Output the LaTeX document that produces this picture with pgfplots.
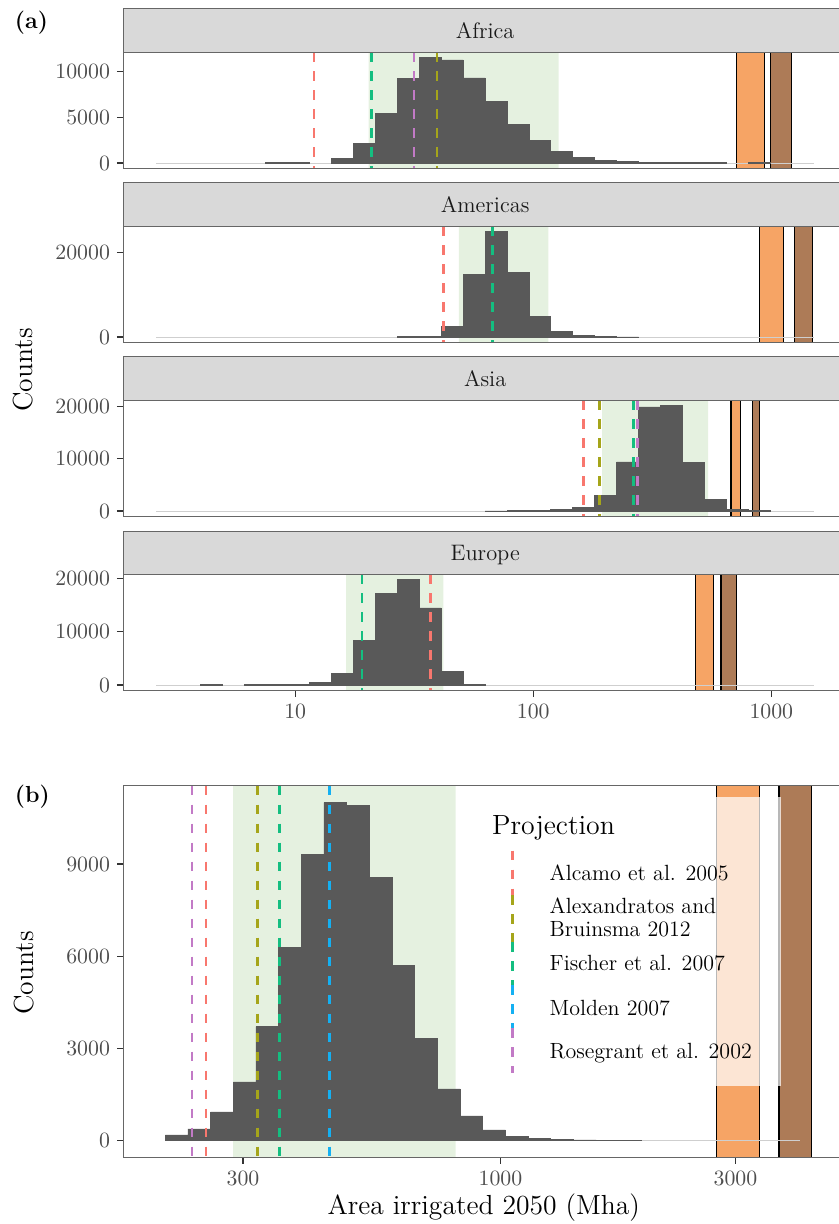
\documentclass[border=0pt]{standalone}
\usepackage{fontspec}
\usepackage{pgfplots}
\usepackage{pgfplotstable}
\pgfplotsset{compat=1.18}
\definecolor{cred}{HTML}{F8776E}
\definecolor{colive}{HTML}{A5A51A}
\definecolor{cgreen}{HTML}{14BE80}
\definecolor{cblue}{HTML}{14B0F2}
\definecolor{cpurple}{HTML}{C27AC6}
\definecolor{shade}{HTML}{E5F1E0}
\definecolor{sandy}{HTML}{F6A465}
\definecolor{tanb}{HTML}{AD7B57}
\definecolor{histfill}{HTML}{595959}
\definecolor{baseln}{HTML}{CFCFCF}
\definecolor{framec}{HTML}{666666}
\definecolor{stripc}{HTML}{D9D9D9}
\definecolor{ticklab}{HTML}{4D4D4D}
\definecolor{tickc}{HTML}{333333}

% regional histograms: x = log10(area, Mha) of bin left edge, counts per bin
\pgfplotstableread{
edge   africa americas asia  europe
0.4160 0      0        0     0
0.5081 0      0        0     0
0.6002 0      0        0     40
0.6923 0      0        0     0
0.7844 0      0        0     40
0.8765 40     0        0     60
0.9686 60     0        0     80
1.0607 0      0        0     480
1.1528 473    0        0     2200
1.2449 2109   0        0     8287
1.3370 5382   0        0     17134
1.4291 9236   60       0     19751
1.5212 11527  200      0     14455
1.6133 11273  2530     0     2555
1.7054 9309   14783    0     60
1.7975 6691   25059    30    0
1.8896 4182   15257    40    0
1.9817 2436   4901     60    0
2.0738 1273   1265     255   0
2.1659 582    395      764   0
2.2580 255    80       2930  0
2.3501 145    40       9363  0
2.4422 60     0        19873 0
2.5343 45     0        20127 0
2.6264 40     0        9236  0
2.7185 35     0        2166  0
2.8106 0      0        382   0
2.9027 30     0        80    0
2.9948 0      0        0     0
3.0869 0      0        0     0
3.1790 0      0        0     0
}\regional

% global histogram
\pgfplotstableread{
edge   total
2.3194 185
2.3654 380
2.4115 933
2.4575 1908
2.5035 3705
2.5496 6273
2.5956 9318
2.6416 10997
2.6876 10910
2.7337 8570
2.7797 5710
2.8257 3315
2.8718 1680
2.9178 803
2.9638 348
3.0099 150
3.0559 75
3.1019 25
3.1479 20
3.1940 15
3.2400 10
3.2860 0
3.3321 0
3.3781 0
3.4241 0
3.4702 0
3.5162 0
3.5622 0
3.6082 0
}\totaltab

\tikzset{vline/.style={line width=1.3pt, dash pattern=on 4.75pt off 4.75pt}}
\pgfplotsset{
  base/.style={
    scale only axis, width=361.85pt, axis on top,
    axis line style={draw=framec, line width=0.5pt},
    tick pos=left, tick align=outside,
    major tick length=3.15pt,
    tick style={draw=tickc, line width=0.55pt},
    tick label style={font=\fontsize{10.9}{12}\selectfont, text=ticklab},
    /pgf/number format/assume math mode=true,
    /pgf/number format/1000 sep={},
    scaled y ticks=false,
    minor tick num=0,
  },
  facet/.style={base, height=58pt, xmin=0.278, xmax=3.318, xtick=\empty},
  hist/.style={ybar interval, fill=histfill, draw=histfill, line width=0.35pt},
}
\newcommand{\band}[3]{\addplot[#1] coordinates {(#2,\ylo) (#3,\ylo) (#3,\yhi) (#2,\yhi) (#2,\ylo)};}
\newcommand{\vl}[2]{\addplot[vline,#1] coordinates {(#2,\yhi) (#2,\ylo)};}
\newcommand{\baseline}[2]{\addplot[draw=baseln, line width=0.45pt] coordinates {(#1,0) (#2,0)};}

\begin{document}
\begin{tikzpicture}
\useasboundingbox (0,0) rectangle (419.5pt,-612pt);
\clip (0,0) rectangle (419.5pt,-612pt);

% ---------- Africa ----------
\def\ylo{-576}\def\yhi{12103}
\begin{axis}[facet, at={(61.65pt,-84.15pt)}, anchor=south west,
  ymin=-576, ymax=12103, ytick={0,5000,10000}]
\band{fill=shade, draw=none}{1.3082}{2.1069}
\band{fill=sandy, draw=black, line width=0.6pt}{2.855}{2.970}
\band{fill=tanb, draw=black, line width=0.6pt}{2.998}{3.085}
\baseline{0.4160}{3.1790}
\addplot[hist, restrict x to domain=0.876:1.061] table[x=edge, y=africa] {\regional};
\addplot[hist, restrict x to domain=1.152:2.811] table[x=edge, y=africa] {\regional};
\addplot[hist, restrict x to domain=2.902:2.995] table[x=edge, y=africa] {\regional};
\vl{cred}{1.0787}
\vl{colive}{1.5962}
\vl{cgreen}{1.3217}
\vl{cpurple}{1.4994}
\end{axis}

% ---------- Americas ----------
\def\ylo{-1253}\def\yhi{26312}
\begin{axis}[facet, at={(61.65pt,-171.15pt)}, anchor=south west,
  ymin=-1253, ymax=26312, ytick={0,20000}]
\band{fill=shade, draw=none}{1.688}{2.064}
\band{fill=sandy, draw=black, line width=0.6pt}{2.950}{3.052}
\band{fill=tanb, draw=black, line width=0.6pt}{3.097}{3.173}
\baseline{0.4160}{3.1790}
\addplot[hist, restrict x to domain=1.429:2.443] table[x=edge, y=americas] {\regional};
\vl{cred}{1.623}
\vl{cgreen}{1.830}
\end{axis}

% ---------- Asia ----------
\def\ylo{-1006}\def\yhi{21133}
\begin{axis}[facet, at={(61.65pt,-258.15pt)}, anchor=south west,
  ymin=-1006, ymax=21133, ytick={0,10000,20000}]
\band{fill=shade, draw=none}{2.289}{2.735}
\band{fill=sandy, draw=black, line width=0.6pt}{2.831}{2.870}
\band{fill=tanb, draw=black, line width=0.6pt}{2.921}{2.950}
\baseline{0.4160}{3.1790}
\addplot[hist, restrict x to domain=1.797:2.995] table[x=edge, y=asia] {\regional};
\vl{cred}{2.210}
\vl{colive}{2.278}
\vl{cgreen}{2.422}
\vl{cpurple}{2.438}
\end{axis}

% ---------- Europe ----------
\def\ylo{-988}\def\yhi{20739}
\begin{axis}[facet, at={(61.65pt,-345.15pt)}, anchor=south west,
  ymin=-988, ymax=20739, ytick={0,10000,20000},
  xtick={1,2,3}, xticklabels={10,100,1000}]
\band{fill=shade, draw=none}{1.214}{1.623}
\band{fill=sandy, draw=black, line width=0.6pt}{2.681}{2.757}
\band{fill=tanb, draw=black, line width=0.6pt}{2.789}{2.854}
\baseline{0.4160}{3.1790}
\addplot[hist, restrict x to domain=0.600:0.693] table[x=edge, y=europe] {\regional};
\addplot[hist, restrict x to domain=0.784:1.798] table[x=edge, y=europe] {\regional};
\vl{cred}{1.569}
\vl{cgreen}{1.281}
\end{axis}

% ---------- (b) global ----------
\def\ylo{-550}\def\yhi{11547}
\begin{axis}[base, at={(61.65pt,-578.75pt)}, anchor=south west,
  height=185.9pt, xmin=2.2341, xmax=3.7036, ymin=-550, ymax=11547,
  xtick={2.4771,3,3.4771}, xticklabels={300,1000,3000},
  ytick={0,3000,6000,9000}]
\band{fill=shade, draw=none}{2.4569}{2.9090}
\band{fill=sandy, draw=black, line width=0.6pt}{3.4382}{3.5263}
\band{fill=tanb, draw=black, line width=0.6pt}{3.5655}{3.6319}
\baseline{2.3194}{3.6082}
\addplot[hist, restrict x to domain=2.319:3.287] table[x=edge, y=total] {\totaltab};
\vl{cred}{2.4020}
\vl{colive}{2.5070}
\vl{cgreen}{2.5509}
\vl{cblue}{2.6524}
\vl{cpurple}{2.3736}
\end{axis}

\begin{scope}[x=0.5pt, y=-0.5pt]
% strips
\foreach \t/\name in {9/Africa, 183/Americas, 357/Asia, 531/Europe}{
  \filldraw[fill=stripc, draw=framec, line width=0.5pt] (123.3,\t) rectangle (860,\t+43.3);
  \node[anchor=base, inner sep=0, text=black!90, font=\fontsize{11.2}{13}\selectfont] at (485.2,\t+29.3) {\name};
}
% panel labels
\node[anchor=base west, inner sep=0, font=\fontsize{11.6}{13}\selectfont\bfseries] at (14.5,28.9) {(a)};
\node[anchor=base west, inner sep=0, font=\fontsize{11.6}{13}\selectfont\bfseries] at (14.5,802.5) {(b)};
% axis titles
\node[rotate=90, inner sep=0, font=\fontsize{13.8}{16}\selectfont] at (23.5,370) {Counts};
\node[rotate=90, inner sep=0, font=\fontsize{13.8}{16}\selectfont] at (23.8,973) {Counts};
\node[anchor=base, inner sep=0, font=\fontsize{13.8}{16}\selectfont] at (483.8,1214.4) {Area irrigated 2050 (Mha)};
% legend
\fill[white, opacity=0.72] (478,796.7) rectangle (781,1086);
\node[anchor=base west, inner sep=0, font=\fontsize{13.9}{16}\selectfont] at (491.7,834) {Projection};
\draw[vline, cred] (512.7,850.7) -- (512.7,895);
\draw[vline, colive] (512.7,895) -- (512.7,942.3);
\draw[vline, cgreen] (512.7,942.3) -- (512.7,985);
\draw[vline, cblue] (512.7,985) -- (512.7,1028.3);
\draw[vline, cpurple] (512.7,1028.3) -- (512.7,1072.7);
\begin{scope}[every node/.style={anchor=base west, inner sep=0, font=\fontsize{11}{13}\selectfont}]
\node at (549.3,880.7) {Alcamo et al. 2005};
\node at (549.3,913) {Alexandratos and};
\node at (549.3,936.7) {Bruinsma 2012};
\node at (549.3,970.7) {Fischer et al. 2007};
\node at (549.3,1015) {Molden 2007};
\node at (549.3,1058.3) {Rosegrant et al. 2002};
\end{scope}
\end{scope}
\end{tikzpicture}
\end{document}
